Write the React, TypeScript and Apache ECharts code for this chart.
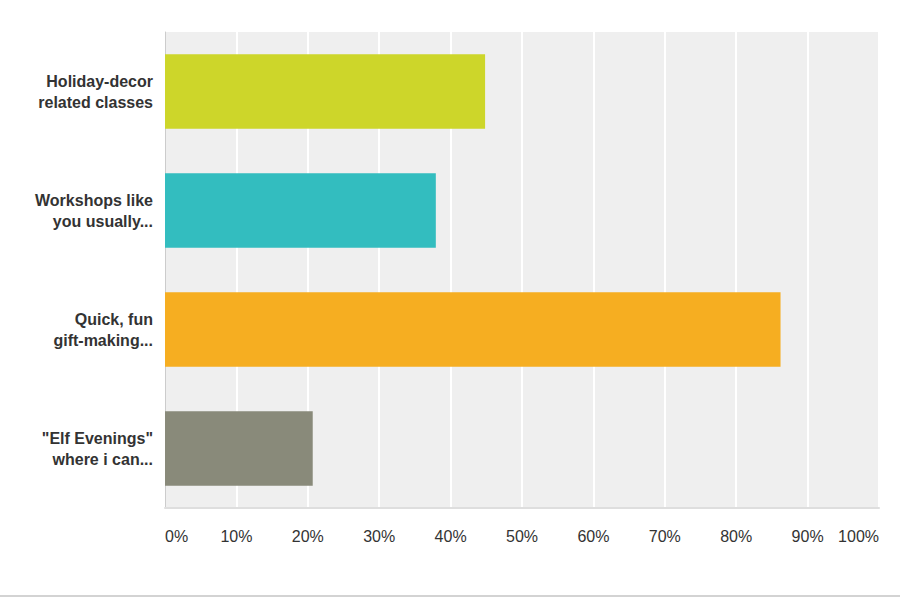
import React, { useEffect, useRef } from "react";
import * as echarts from "echarts";

const categories = [
  "Holiday-decor\nrelated classes",
  "Workshops like\nyou usually...",
  "Quick, fun\ngift-making...",
  "\"Elf Evenings\"\nwhere i can...",
];
const values = [44.83, 37.93, 86.21, 20.69];
const colors = ["#cdd62a", "#33bdbf", "#f6ae21", "#898a7a"];

export default function App() {
  const ref = useRef<HTMLDivElement>(null);
  useEffect(() => {
    if (!ref.current) return;
    const chart = echarts.init(ref.current, undefined, { renderer: "svg" });
    chart.setOption({
      animation: false,
      grid: {
        left: 165,
        top: 32,
        right: 21,
        bottom: 89,
        show: true,
        backgroundColor: "#efefef",
        borderWidth: 0,
      },
      xAxis: {
        type: "value",
        min: 0,
        max: 100,
        interval: 10,
        axisLine: { show: true, lineStyle: { color: "#dedede", width: 2 } },
        axisTick: { show: false },
        splitLine: { show: true, lineStyle: { color: "#ffffff", width: 2 } },
        axisLabel: {
          formatter: "{value}%",
          color: "#333",
          fontSize: 16,
          fontFamily: "Liberation Sans, Arial, sans-serif",
          margin: 20,
          alignMinLabel: "left",
          alignMaxLabel: "right",
        },
      },
      yAxis: {
        type: "category",
        inverse: true,
        data: categories,
        axisLine: { show: true, lineStyle: { color: "#cccccc", width: 1 } },
        axisTick: { show: false },
        splitLine: { show: false },
        axisLabel: {
          color: "#333",
          fontSize: 16,
          fontWeight: "bold",
          fontFamily: "Liberation Sans, Arial, sans-serif",
          margin: 12,
          lineHeight: 21,
          align: "right",
        },
      },
      series: [
        {
          type: "bar",
          data: values.map((v, i) => ({ value: v, itemStyle: { color: colors[i] } })),
          barCategoryGap: "37.6%",
        },
      ],
      graphic: [
        {
          type: "line",
          shape: { x1: 0, y1: 596, x2: 900, y2: 596 },
          style: { stroke: "#c4c4c4", lineWidth: 1.5 },
        },
      ],
    });
    return () => chart.dispose();
  }, []);
  return <div ref={ref} style={{ width: 900, height: 597, position: "absolute", left: 0, top: 0 }} />;
}
